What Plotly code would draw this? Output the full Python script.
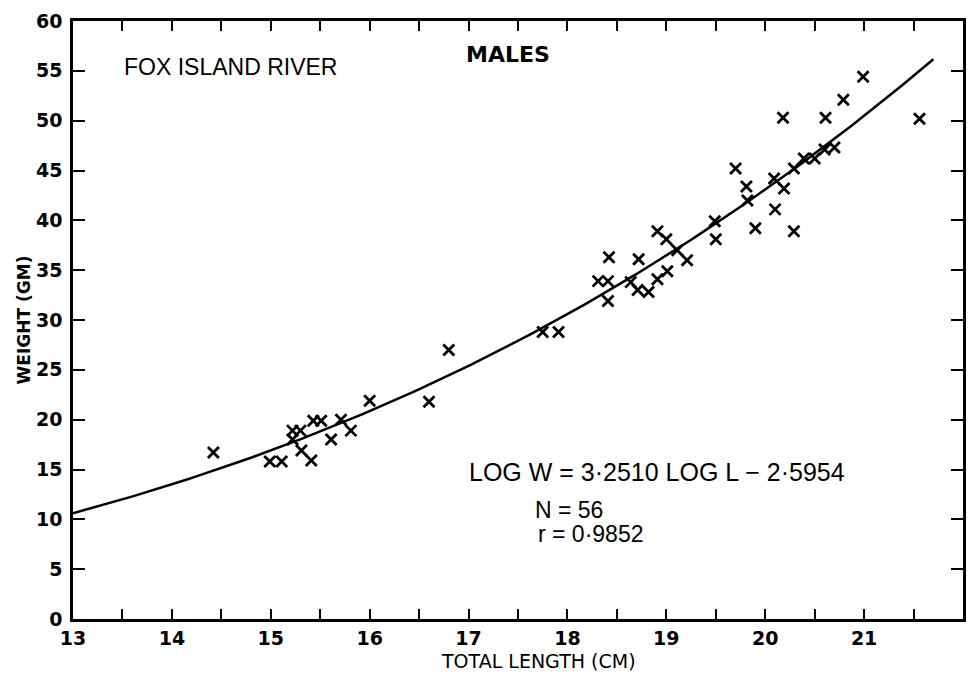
import numpy as np
import plotly.graph_objects as go

# Observed fish (total length cm, weight gm)
length_cm = [14.42, 14.99, 15.11, 15.22, 15.30, 15.22, 15.31, 15.41, 15.43, 15.51,
             15.61, 15.71, 15.81, 16.00, 16.60, 16.80,
             17.75, 17.91, 18.31, 18.41, 18.41, 18.42, 18.72, 18.64, 18.71, 18.82,
             18.91, 19.01, 18.91, 19.00, 19.11, 19.21,
             19.49, 19.50, 19.90, 19.81, 19.82, 19.70, 20.09, 20.19, 20.10, 20.29,
             20.29, 20.39, 20.50, 20.60, 20.70, 20.18, 20.61, 20.79, 20.99, 21.56]
weight_gm = [16.7, 15.8, 15.8, 18.9, 18.9, 18.0, 16.9, 15.9, 19.9, 19.9,
             18.0, 20.0, 18.9, 21.9, 21.8, 27.0,
             28.8, 28.8, 33.9, 33.9, 31.9, 36.3, 36.1, 33.8, 33.0, 32.8,
             34.1, 34.9, 38.9, 38.1, 37.0, 36.0,
             39.9, 38.1, 39.2, 43.4, 42.0, 45.2, 44.2, 43.2, 41.1, 38.9,
             45.2, 46.2, 46.2, 47.1, 47.3, 50.3, 50.3, 52.1, 54.4, 50.2]

# Regression shown on the chart: LOG W = 3.2510 LOG L - 2.5954
slope = 3.2510
intercept = -2.5954
fit_range = [13.0, 21.7]

x_ticks = list(range(13, 23))
y_ticks = list(range(0, 61, 5))

fit_x = np.linspace(fit_range[0], fit_range[1], 200)
fit_y = 10 ** (slope * np.log10(fit_x) + intercept)

fig = go.Figure()
fig.add_trace(go.Scatter(x=fit_x, y=fit_y, mode="lines",
                         line=dict(color="black", width=2.5), hoverinfo="skip"))
fig.add_trace(go.Scatter(x=length_cm, y=weight_gm, mode="markers",
                         marker=dict(symbol="x-thin", size=11, color="black",
                                     line=dict(color="black", width=2.8))))

tf = dict(family="DejaVu Sans, sans-serif", size=19, color="black", weight="bold")
fig.update_xaxes(range=[13, 22], tickvals=x_ticks, ticktext=[str(v) for v in x_ticks],
                 ticks="inside", ticklen=10, tickwidth=2, tickcolor="black",
                 minor=dict(dtick=0.5, tick0=13, ticks="inside", ticklen=10, tickwidth=2, tickcolor="black", showgrid=False),
                 showline=True, linecolor="black", linewidth=2.5, mirror="ticks",
                 showgrid=False, zeroline=False, tickfont=tf)
fig.update_yaxes(range=[0, 60], tickvals=y_ticks, ticktext=[str(v) for v in y_ticks],
                 ticks="inside", ticklen=12, tickwidth=2, tickcolor="black",
                 showline=True, linecolor="black", linewidth=2.5, mirror="ticks",
                 showgrid=False, zeroline=False, tickfont=tf, ticklabelstandoff=4,
                 title=dict(text="WEIGHT (GM)", standoff=2,
                            font=dict(family="DejaVu Sans, sans-serif", size=17, color="black", weight="bold")))

fig.add_annotation(x=16.70, y=-0.071, xref="x", yref="paper", text="TOTAL LENGTH (CM)",
                   showarrow=False, xanchor="left", yanchor="middle",
                   font=dict(family="DejaVu Sans, sans-serif", size=19, color="black"))

af = dict(family="Liberation Sans, Arial, sans-serif", size=23, color="black")
fig.add_annotation(x=13.5, y=55.4, text="FOX ISLAND RIVER", showarrow=False, xanchor="left", yanchor="middle", font=af)
fig.add_annotation(x=16.95, y=56.6, text="MALES", showarrow=False, xanchor="left", yanchor="middle",
                   font=dict(family="DejaVu Sans, sans-serif", size=22, color="black", weight="bold"))
fig.add_annotation(x=16.98, y=14.7, text="LOG W = 3·2510 LOG L − 2·5954", showarrow=False, xanchor="left", yanchor="middle",
                   font=dict(family="Liberation Sans, Arial, sans-serif", size=25, color="black"))
fig.add_annotation(x=17.65, y=10.9, text="N = 56", showarrow=False, xanchor="left", yanchor="middle", font=af)
fig.add_annotation(x=17.68, y=8.5, text="r = 0·9852", showarrow=False, xanchor="left", yanchor="middle", font=af)

fig.update_layout(width=976, height=675, margin=dict(l=73, r=10, t=21, b=56),
                  paper_bgcolor="white", plot_bgcolor="white", showlegend=False)
fig.write_html("out.html")
